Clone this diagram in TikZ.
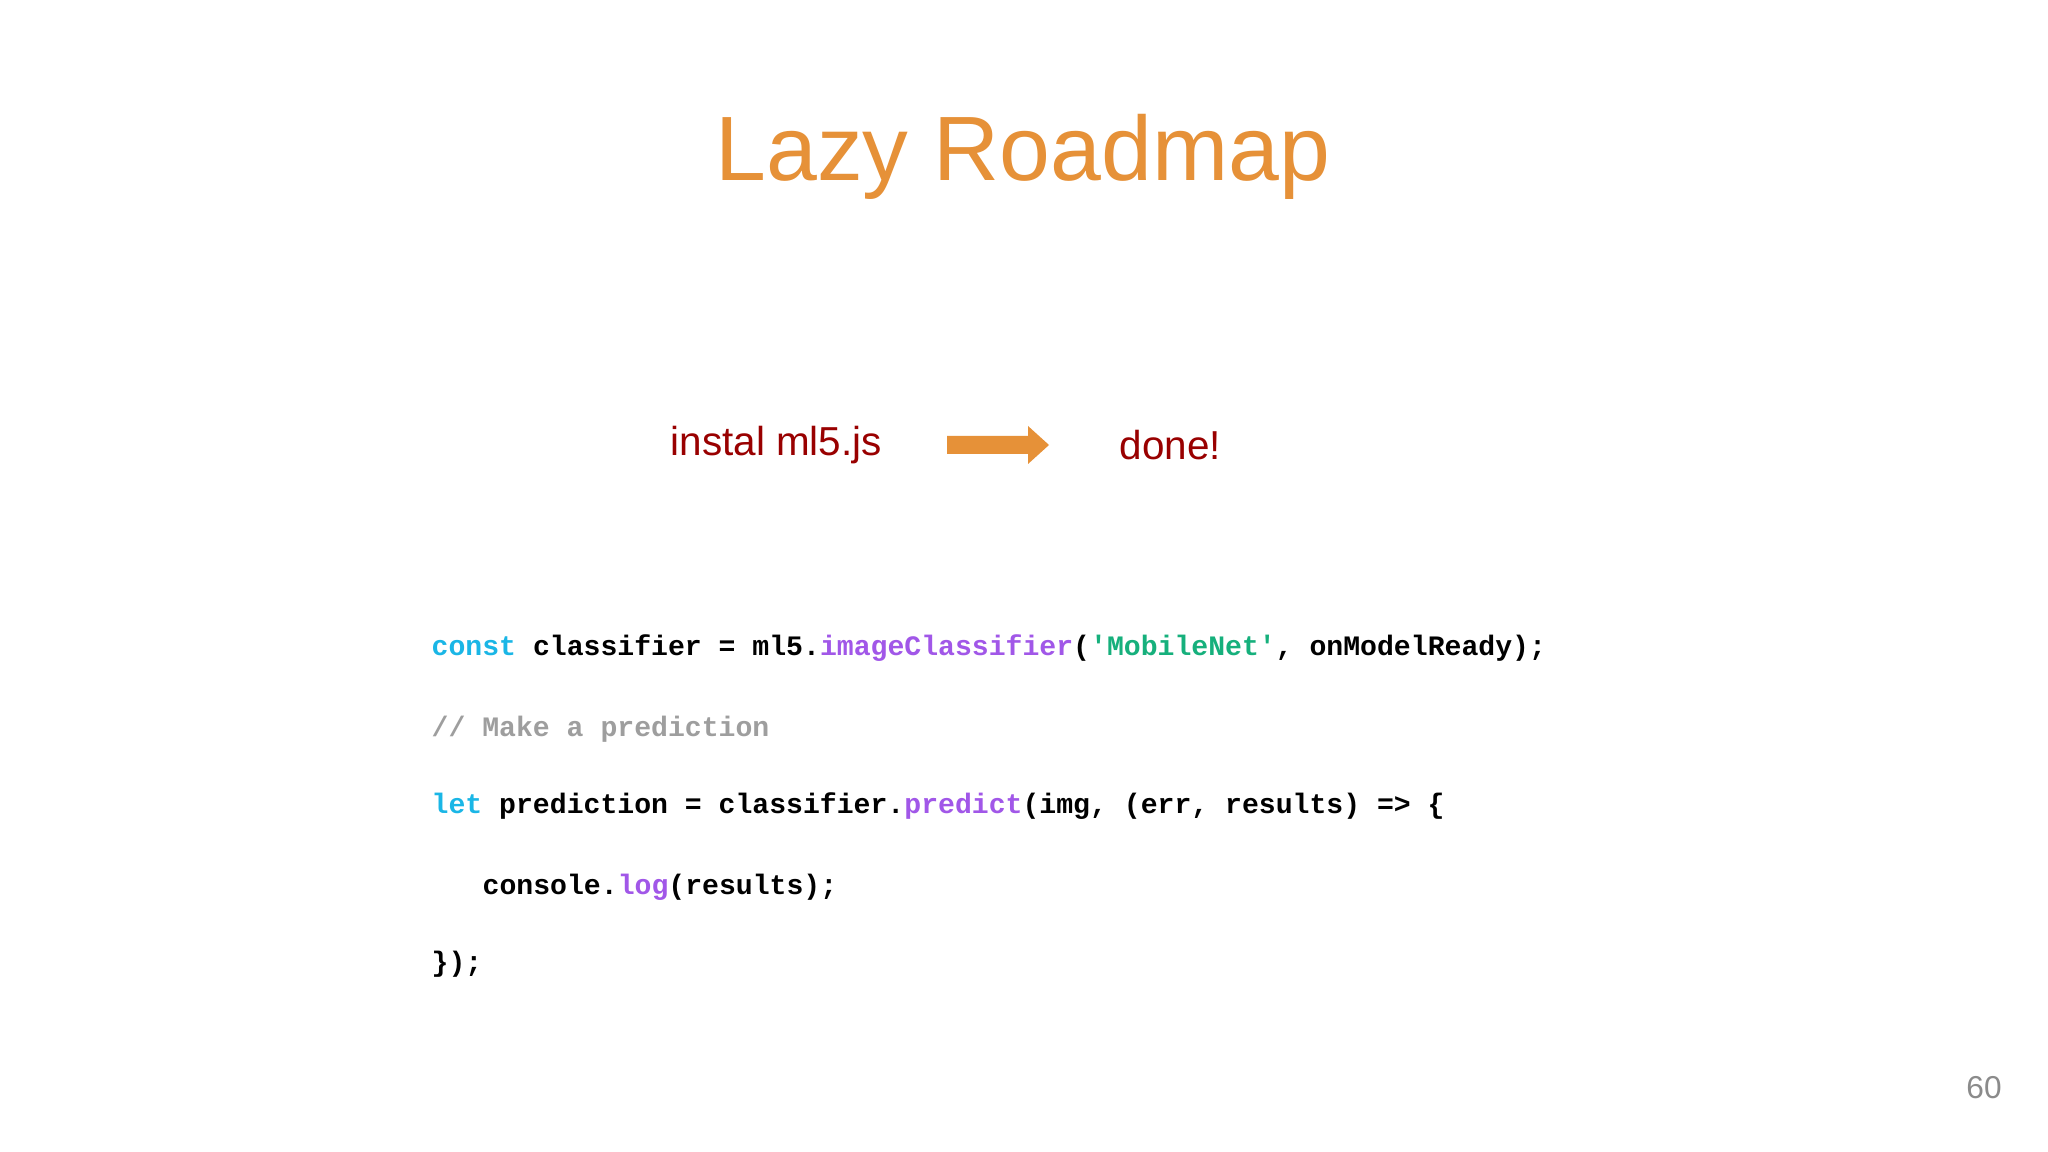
\documentclass[tikz,border=0pt]{standalone}
\usepackage{fontspec}
\setmainfont{Liberation Sans}
\setmonofont{Liberation Mono}
\definecolor{ttl}{HTML}{E69138}
\definecolor{dred}{HTML}{990000}
\definecolor{kw}{HTML}{1AB6E6}
\definecolor{fn}{HTML}{A157E8}
\definecolor{str}{HTML}{16B07C}
\definecolor{cm}{HTML}{9E9E9E}
\begin{document}
\begin{tikzpicture}[x=0.01cm,y=-0.01cm,
  code/.style={anchor=west,inner sep=0pt,font=\ttfamily\bfseries\fontsize{8}{9}\selectfont},
  road/.style={font=\fontsize{11.5}{13}\selectfont,text=dred,inner sep=0pt}]
\useasboundingbox[fill=white] (0,0) rectangle (2048,1152);
\node[font=\fontsize{26}{30}\selectfont,text=ttl] (title) at (1023,157) {Lazy Roadmap};
\node[road,anchor=west] (a) at (670,445) {instal ml5.js};
\node[road,anchor=west] (b) at (1119,445) {done!};
\fill[ttl] (947,436) -- (1028,436) -- (1028,426) -- (1049,445) -- (1028,464) -- (1028,454) -- (947,454) -- cycle;
\node[code] (l1) at (431,648) {\textcolor{kw}{const} classifier = ml5.\textcolor{fn}{imageClassifier}(\textcolor{str}{'MobileNet'}, onModelReady);};
\node[code,text=cm] (l2) at (431,729) {// Make a prediction};
\node[code] (l3) at (431,806) {\textcolor{kw}{let} prediction = classifier.\textcolor{fn}{predict}(img, (err, results) => \{};
\node[code] (l4) at (482,887) {console.\textcolor{fn}{log}(results);};
\node[code] (l5) at (431,964) {\});};
\node[font=\fontsize{9}{11}\selectfont,text=cm!120] (pg) at (1984,1088) {60};
\end{tikzpicture}
\end{document}
